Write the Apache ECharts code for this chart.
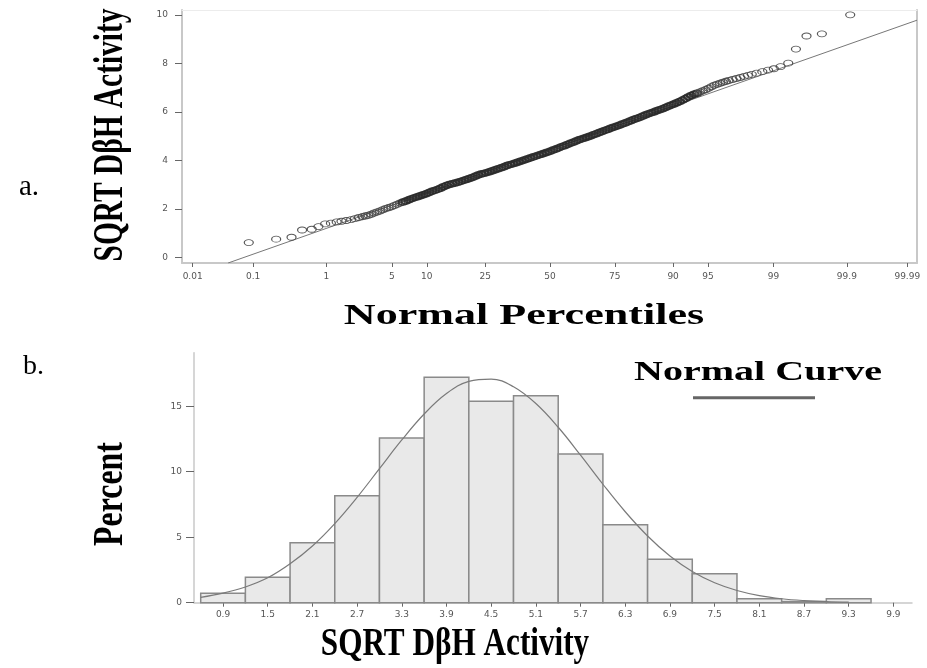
<!DOCTYPE html>
<html>
<head>
<meta charset="utf-8">
<script src="https://cdn.jsdelivr.net/npm/echarts@6/dist/echarts.min.js"></script>
<style>html,body{margin:0;padding:0;background:#fff}#c{width:927px;height:668px}</style>
</head>
<body>
<div id="c"></div>
<script>
// ---------- Panel a: normal probability plot ----------
// tick labels (normal percentiles)
const percentileTicks = ['0.01','0.1','1','5','10','25','50','75','90','95','99','99.9','99.99'];
const activityTicks = [0, 2, 4, 6, 8, 10];
// observed points: [normal score, SQRT DbH activity]
const probPoints = [
 [-3.135,0.62],[-2.85,0.76],[-2.69,0.84],[-2.58,1.14],[-2.48,1.17],[-2.41,1.28],[-2.34,1.39],[-2.28,1.42],
 [-2.22,1.47],[-2.17,1.50],[-2.12,1.53],[-2.07,1.57],[-2.03,1.61],[-1.99,1.65],[-1.95,1.69],
 [-1.92,1.72],[-1.89,1.75],[-1.86,1.79],[-1.83,1.84],[-1.80,1.88],[-1.77,1.92],[-1.74,1.97],[-1.71,2.02],
 [-1.68,2.06],[-1.65,2.10],[-1.62,2.15],[-1.59,2.20],[-1.56,2.25],[-1.53,2.29],[-1.50,2.33],[-1.47,2.38],
 [-1.44,2.43],[-1.41,2.47],[-1.38,2.51],[-1.35,2.55],[-1.32,2.59],[-1.29,2.63],[-1.26,2.68],[-1.23,2.73],
 [-1.20,2.77],[-1.17,2.81],[-1.14,2.86],[-1.11,2.92],[-1.08,2.97],[-1.05,3.01],[-1.02,3.04],[-0.99,3.07],
 [-0.96,3.10],[-0.93,3.14],[-0.90,3.18],[-0.87,3.22],[-0.84,3.26],[-0.81,3.30],[-0.78,3.35],[-0.75,3.40],
 [-0.72,3.44],[-0.69,3.47],[-0.66,3.50],[-0.63,3.54],[-0.60,3.58],[-0.57,3.62],[-0.54,3.66],[-0.51,3.70],
 [-0.48,3.74],[-0.45,3.79],[-0.42,3.83],[-0.39,3.86],[-0.36,3.90],[-0.33,3.94],[-0.30,3.98],[-0.27,4.02],
 [-0.24,4.06],[-0.21,4.10],[-0.18,4.14],[-0.15,4.18],[-0.12,4.22],[-0.09,4.26],[-0.06,4.30],[-0.03,4.34],
 [0.00,4.38],[0.03,4.43],[0.06,4.47],[0.09,4.52],[0.12,4.57],[0.15,4.61],[0.18,4.66],[0.21,4.71],
 [0.24,4.75],[0.27,4.80],[0.30,4.85],[0.33,4.89],[0.36,4.93],[0.39,4.97],[0.42,5.01],[0.45,5.06],
 [0.48,5.10],[0.51,5.15],[0.54,5.19],[0.57,5.24],[0.60,5.28],[0.63,5.33],[0.66,5.37],[0.69,5.41],
 [0.72,5.45],[0.75,5.50],[0.78,5.54],[0.81,5.59],[0.84,5.64],[0.87,5.69],[0.90,5.73],[0.93,5.77],
 [0.96,5.82],[0.99,5.87],[1.02,5.92],[1.05,5.96],[1.08,6.00],[1.11,6.05],[1.14,6.09],[1.17,6.13],
 [1.20,6.18],[1.23,6.23],[1.26,6.28],[1.29,6.33],[1.32,6.38],[1.35,6.43],[1.38,6.49],[1.41,6.55],
 [1.44,6.62],[1.47,6.68],[1.50,6.73],[1.53,6.77],[1.56,6.82],[1.59,6.87],[1.62,6.92],[1.65,6.98],
 [1.68,7.04],[1.71,7.10],[1.74,7.14],[1.77,7.18],[1.80,7.22],[1.83,7.26],
 [1.86,7.30],[1.90,7.34],[1.94,7.38],[1.98,7.42],[2.02,7.47],[2.06,7.51],[2.10,7.55],[2.15,7.60],
 [2.21,7.66],[2.27,7.72],[2.33,7.78],[2.40,7.87],[2.48,8.01],[2.56,8.59],[2.67,9.13],[2.83,9.22],[3.125,10.0]
];
// fitted reference line endpoints [normal score, value]
const refLine = [[-3.35,-0.22],[3.82,9.78]];

// ---------- Panel b: histogram ----------
const binCenters = [0.9,1.5,2.1,2.7,3.3,3.9,4.5,5.1,5.7,6.3,6.9,7.5,8.1,8.7,9.3];
const binPercent = [0.72,1.94,4.58,8.17,12.57,17.2,15.37,15.8,11.35,5.95,3.31,2.21,0.31,0.1,0.31];
const binWidth = 0.6;
const histXTicks = [0.9,1.5,2.1,2.7,3.3,3.9,4.5,5.1,5.7,6.3,6.9,7.5,8.1,8.7,9.3,9.9];
const histYTicks = [0,5,10,15];
const curveX = [0.6,0.9,1.2,1.5,1.8,2.1,2.4,2.7,3.0,3.3,3.6,3.9,4.2,4.5,4.8,5.1,5.4,5.7,6.0,6.3,6.6,6.9,7.2,7.5,7.8,8.1,8.4,8.7,9.0,9.3];
const curveY = [0.41,0.73,1.20,1.90,2.97,4.33,6.04,8.04,10.23,12.42,14.4,15.96,16.89,17.07,16.48,15.2,13.39,11.26,9.04,6.94,5.09,3.56,2.38,1.52,0.93,0.54,0.30,0.16,0.08,0.04];

// inverse normal CDF (for placing percentile ticks on a normal-score axis)
function probit(p){
 const a=[-3.969683028665376e+01,2.209460984245205e+02,-2.759285104469687e+02,1.383577518672690e+02,-3.066479806614716e+01,2.506628277459239e+00];
 const b=[-5.447609879822406e+01,1.615858368580409e+02,-1.556989798598866e+02,6.680131188771972e+01,-1.328068155288572e+01];
 const c=[-7.784894002430293e-03,-3.223964580411365e-01,-2.400758277161838e+00,-2.549732539343734e+00,4.374664141464968e+00,2.938163982698783e+00];
 const d=[7.784695709041462e-03,3.224671290700398e-01,2.445134137142996e+00,3.754408661907416e+00];
 const pl=0.02425, ph=1-pl; let q,r;
 if(p<pl){q=Math.sqrt(-2*Math.log(p));return (((((c[0]*q+c[1])*q+c[2])*q+c[3])*q+c[4])*q+c[5])/((((d[0]*q+d[1])*q+d[2])*q+d[3])*q+1);}
 if(p<=ph){q=p-0.5;r=q*q;return (((((a[0]*r+a[1])*r+a[2])*r+a[3])*r+a[4])*r+a[5])*q/(((((b[0]*r+b[1])*r+b[2])*r+b[3])*r+b[4])*r+1);}
 q=Math.sqrt(-2*Math.log(1-p));return -(((((c[0]*q+c[1])*q+c[2])*q+c[3])*q+c[4])*q+c[5])/((((d[0]*q+d[1])*q+d[2])*q+d[3])*q+1);
}
const pctZ = percentileTicks.map(s => probit(parseFloat(s)/100));
function pctLabel(v){
  for (let i=0;i<pctZ.length;i++) if (Math.abs(pctZ[i]-v)<1e-6) return percentileTicks[i];
  return '';
}

// dense middle of the band is drawn darker (many overlapping markers in the original)
const scatterData = probPoints.map(p => {
  const az = Math.abs(p[0]);
  let st;
  if (az <= 1.55) st = {borderColor:'#2a2a2a', borderWidth:1.9};
  else if (az < 2.0) st = {borderColor:'#4a4a4a', borderWidth:1.3};
  else st = {borderColor:'#444', borderWidth:1};
  return {value:p, itemStyle:st};
});

const tickFont = {fontFamily:'DejaVu Sans', fontSize:9, color:'#555'};
const serif = 'Liberation Serif';

const chart = echarts.init(document.getElementById('c'), null, {renderer:'canvas'});
chart.setOption({
  animation:false,
  backgroundColor:'#fff',
  grid:[
    {left:182, right:10, top:10, bottom:405},
    {left:194, right:15, top:352.7, bottom:65.3}
  ],
  xAxis:[
    {type:'value', gridIndex:0, min:-3.83, max:3.82,
     axisLine:{onZero:false, lineStyle:{color:'#c8c8c8', width:2}},
     axisTick:{customValues:pctZ, length:4, lineStyle:{color:'#666'}},
     axisLabel:Object.assign({customValues:pctZ, margin:9, formatter:pctLabel}, tickFont),
     splitLine:{show:false}},
    {type:'value', gridIndex:0, position:'top', min:-3.83, max:3.82,
     axisLine:{onZero:false, lineStyle:{color:'#ececec', width:1}},
     axisTick:{show:false}, axisLabel:{show:false}, splitLine:{show:false}},
    {type:'value', gridIndex:1, min:0.51, max:10.15,
     axisLine:{onZero:false, lineStyle:{color:'#c8c8c8', width:1.5}},
     axisTick:{customValues:histXTicks, length:4, lineStyle:{color:'#666'}},
     axisLabel:Object.assign({customValues:histXTicks, margin:7, formatter:v=>v.toFixed(1)}, tickFont),
     splitLine:{show:false}}
  ],
  yAxis:[
    {type:'value', gridIndex:0, min:-0.22, max:10.2,
     axisLine:{show:true, onZero:false, lineStyle:{color:'#c8c8c8', width:2}},
     axisTick:{show:true, customValues:activityTicks, length:7, lineStyle:{color:'#666'}},
     axisLabel:Object.assign({customValues:activityTicks, margin:14}, tickFont),
     splitLine:{show:false}},
    {type:'value', gridIndex:0, position:'right', min:-0.22, max:10.2,
     axisLine:{show:true, onZero:false, lineStyle:{color:'#c8c8c8', width:2}},
     axisTick:{show:false}, axisLabel:{show:false}, splitLine:{show:false}},
    {type:'value', gridIndex:1, min:0, max:19.08,
     axisLine:{show:true, onZero:false, lineStyle:{color:'#c8c8c8', width:1.5}},
     axisTick:{show:true, customValues:histYTicks, length:8, lineStyle:{color:'#666'}},
     axisLabel:Object.assign({customValues:histYTicks, margin:12}, tickFont),
     splitLine:{show:false}}
  ],
  series:[
    {type:'line', xAxisIndex:0, yAxisIndex:0, data:refLine, showSymbol:false, silent:true,
     lineStyle:{color:'#777', width:1}, z:2},
    {type:'scatter', xAxisIndex:0, yAxisIndex:0, data:scatterData, symbol:'circle', symbolSize:[9,6],
     itemStyle:{color:'rgba(0,0,0,0)', borderColor:'#3a3a3a', borderWidth:1, opacity:0.9}, z:3},
    {type:'custom', xAxisIndex:2, yAxisIndex:2,
     data:binCenters.map((c,i)=>[c, binPercent[i]]),
     renderItem:function(params, api){
       const x = api.value(0), y = api.value(1);
       const p0 = api.coord([x - binWidth/2, y]);
       const p1 = api.coord([x + binWidth/2, 0]);
       return {type:'rect', shape:{x:p0[0], y:p0[1], width:p1[0]-p0[0], height:p1[1]-p0[1]},
               style:{fill:'#e9e9e9', stroke:'#8a8a8a', lineWidth:1.5}};
     }, z:2},
    {type:'line', xAxisIndex:2, yAxisIndex:2, data:curveX.map((x,i)=>[x, curveY[i]]),
     smooth:0.4, showSymbol:false, lineStyle:{color:'#7a7a7a', width:1.2}, z:3}
  ],
  graphic:[
    {type:'text', x:19, y:187, style:{text:'a.', font:'29px "'+serif+'"', fill:'#000', align:'left', verticalAlign:'middle', textAlign:'left', textVerticalAlign:'middle'}},
    {type:'text', x:111, y:135, rotation:Math.PI/2, scaleX:0.70, scaleY:1,
     style:{text:'SQRT D\u03b2H Activity', font:'bold 42px "'+serif+'"', fill:'#000', align:'center', verticalAlign:'middle', textAlign:'center', textVerticalAlign:'middle'}},
    {type:'text', x:524, y:316, scaleX:1.47, scaleY:1,
     style:{text:'Normal Percentiles', font:'bold 30px "'+serif+'"', fill:'#000', align:'center', verticalAlign:'middle', textAlign:'center', textVerticalAlign:'middle'}},
    {type:'text', x:23, y:367, style:{text:'b.', font:'28px "'+serif+'"', fill:'#000', align:'left', verticalAlign:'middle', textAlign:'left', textVerticalAlign:'middle'}},
    {type:'text', x:111, y:494, rotation:Math.PI/2, scaleX:0.76, scaleY:1,
     style:{text:'Percent', font:'bold 42px "'+serif+'"', fill:'#000', align:'center', verticalAlign:'middle', textAlign:'center', textVerticalAlign:'middle'}},
    {type:'text', x:758, y:373, scaleX:1.43, scaleY:1,
     style:{text:'Normal Curve', font:'bold 28px "'+serif+'"', fill:'#000', align:'center', verticalAlign:'middle', textAlign:'center', textVerticalAlign:'middle'}},
    {type:'line', shape:{x1:693, y1:397.7, x2:815, y2:397.7}, style:{stroke:'#666', lineWidth:3}},
    {type:'text', x:455, y:645, scaleX:0.78, scaleY:1,
     style:{text:'SQRT D\u03b2H Activity', font:'bold 40px "'+serif+'"', fill:'#000', align:'center', verticalAlign:'middle', textAlign:'center', textVerticalAlign:'middle'}}
  ]
});
</script>
</body>
</html>
